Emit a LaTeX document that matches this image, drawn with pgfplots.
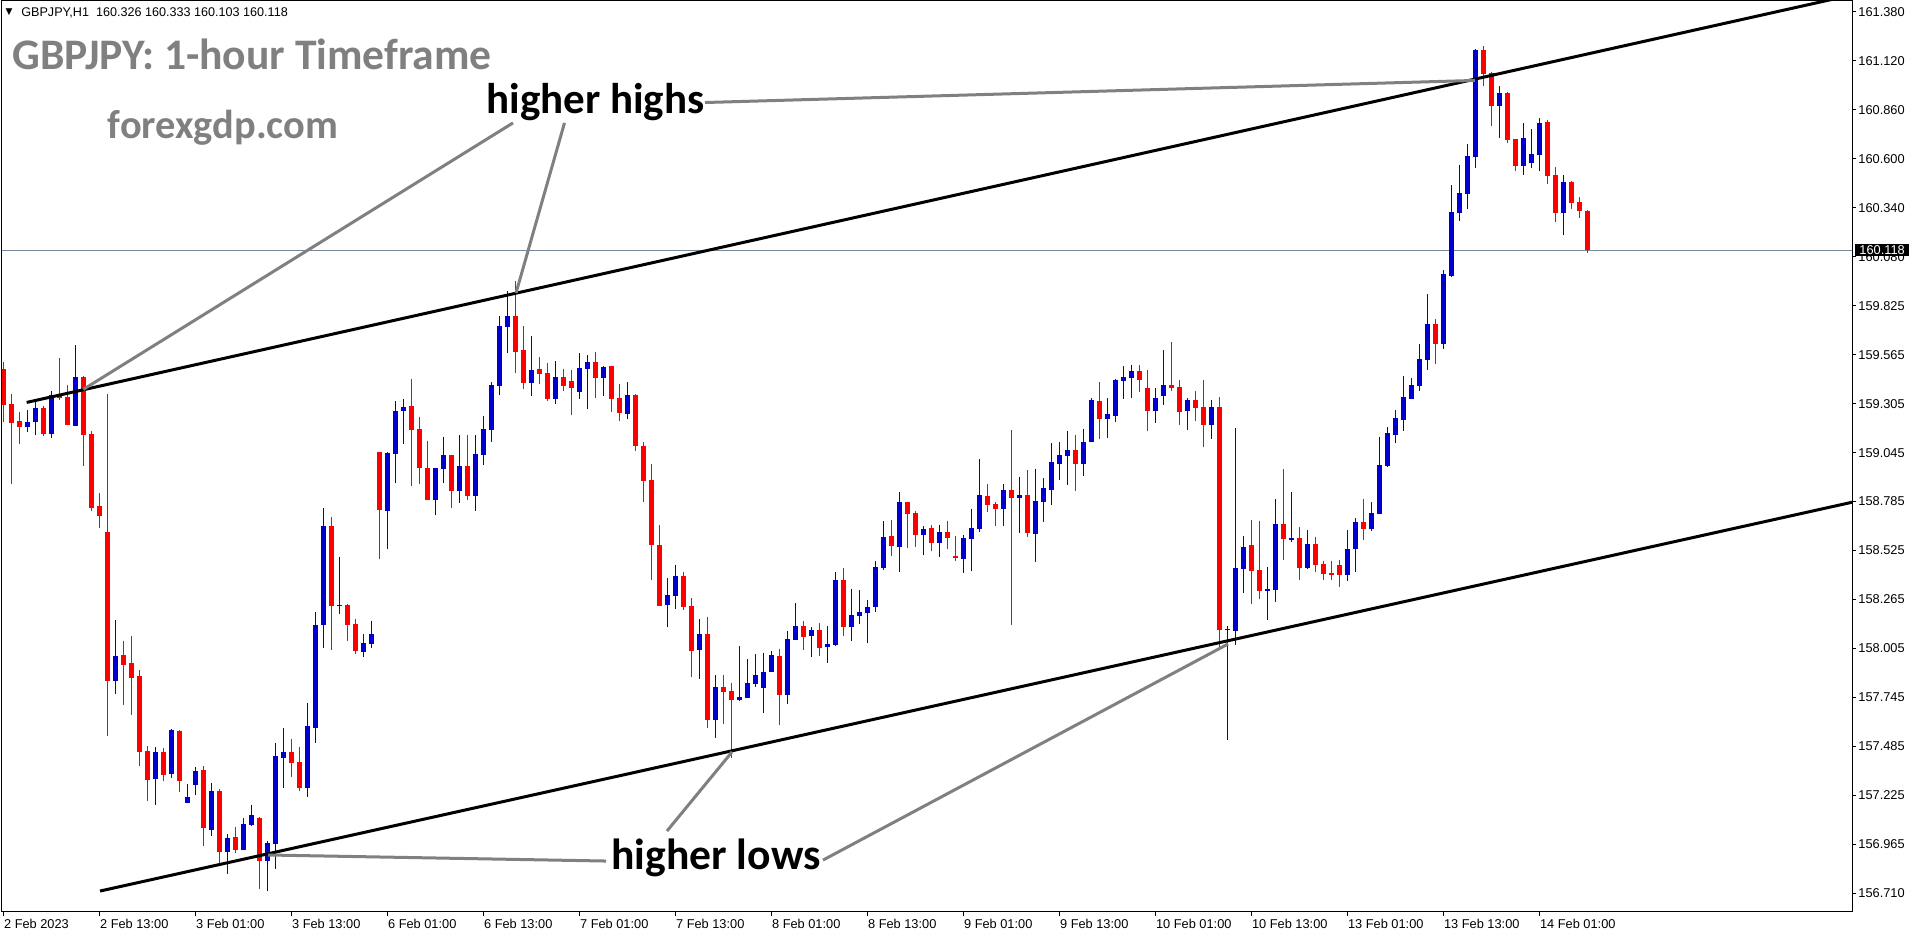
\documentclass[border=0pt]{standalone}
\usepackage{pgfplots}
\pgfplotsset{compat=1.18}
\usepackage{pgfplotstable}
\usepackage{fontspec}
\setmainfont{Carlito}
\newfontfamily\tickfont{Liberation Sans}
\newfontfamily\symfont{DejaVu Sans}
\definecolor{mtblue}{RGB}{0,0,204}
\definecolor{mtred}{RGB}{255,0,0}
\definecolor{anngray}{RGB}{128,128,128}
\definecolor{pricegray}{RGB}{119,136,153}

\pgfplotstableread{
i o h l c
3 159.181 159.271 159.154 159.207
4 159.207 159.319 159.139 159.282
6 159.146 159.370 159.122 159.351
9 159.188 159.616 159.184 159.445
14 157.836 158.158 157.764 157.967
19 157.317 157.485 157.178 157.458
21 157.343 157.580 157.322 157.575
23 157.190 157.289 157.188 157.222
24 157.284 157.379 157.231 157.358
26 157.045 157.294 157.015 157.252
28 156.930 157.024 156.813 157.003
30 156.939 157.109 156.937 157.077
31 157.072 157.178 157.066 157.125
33 156.882 156.987 156.723 156.976
34 156.972 157.506 156.840 157.437
35 157.427 157.586 157.269 157.458
38 157.269 157.718 157.222 157.596
39 157.587 158.200 157.508 158.132
40 158.133 158.752 158.011 158.656
42 158.230 158.492 158.191 158.238
45 157.990 158.084 157.964 158.036
46 158.032 158.153 158.011 158.084
48 158.737 159.050 158.533 159.045
49 159.039 159.319 158.886 159.266
50 159.266 159.329 159.092 159.287
54 158.796 158.966 158.716 158.964
55 158.960 159.128 158.886 159.033
57 158.843 159.139 158.780 158.974
59 158.817 159.139 158.737 159.038
60 159.034 159.239 158.981 159.170
61 159.167 159.419 159.103 159.404
62 159.400 159.769 159.352 159.716
63 159.712 159.902 159.575 159.769
66 159.416 159.663 159.347 159.483
69 159.331 159.531 159.304 159.446
72 159.368 159.573 159.331 159.494
73 159.490 159.563 159.278 159.525
75 159.442 159.504 159.347 159.499
78 159.251 159.419 159.225 159.351
83 158.239 158.381 158.122 158.289
84 158.287 158.450 158.218 158.391
87 158.001 158.163 157.847 158.084
89 157.630 157.866 157.534 157.803
92 157.736 158.022 157.730 157.750
93 157.746 157.951 157.744 157.824
94 157.820 157.979 157.804 157.866
95 157.799 157.985 157.667 157.882
96 157.884 157.995 157.882 157.973
98 157.762 158.101 157.714 158.057
99 158.054 158.248 158.052 158.126
101 158.075 158.121 157.964 158.105
103 158.017 158.126 157.932 158.031
104 158.027 158.412 158.022 158.370
106 158.122 158.322 158.048 158.185
107 158.181 158.317 158.138 158.200
108 158.197 158.264 158.038 158.227
109 158.228 158.471 158.202 158.439
110 158.435 158.683 158.425 158.598
112 158.547 158.836 158.414 158.783
115 158.610 158.656 158.504 158.640
117 158.568 158.662 158.494 158.624
120 158.483 158.609 158.409 158.593
121 158.589 158.746 158.419 158.646
122 158.642 159.011 158.626 158.821
125 158.748 158.879 158.658 158.847
127 158.806 158.916 158.621 158.821
129 158.615 158.958 158.467 158.789
130 158.785 158.911 158.679 158.858
131 158.849 159.096 158.769 158.995
132 158.986 159.101 158.902 159.033
133 159.029 159.160 158.875 159.059
135 158.986 159.170 158.923 159.101
136 159.103 159.335 159.101 159.324
138 159.225 159.335 159.124 159.250
139 159.241 159.435 159.209 159.430
140 159.426 159.504 159.331 159.446
141 159.442 159.510 159.336 159.478
144 159.267 159.388 159.204 159.335
145 159.347 159.589 159.299 159.404
148 159.267 159.335 159.167 159.324
151 159.193 159.324 159.119 159.287
153 158.103 158.126 157.524 158.113
154 158.101 159.176 158.027 158.434
155 158.430 158.603 158.303 158.545
158 158.313 158.439 158.160 158.322
159 158.319 158.799 158.255 158.667
161 158.584 158.836 158.573 158.593
163 158.435 158.635 158.430 158.561
168 158.398 158.635 158.366 158.534
169 158.536 158.699 158.414 158.677
171 158.642 158.783 158.631 158.725
172 158.721 159.128 158.719 158.980
173 158.976 159.181 158.971 159.149
174 159.140 159.271 159.098 159.229
175 159.220 159.451 159.161 159.340
176 159.329 159.441 159.327 159.404
177 159.400 159.621 159.373 159.541
178 159.538 159.886 159.485 159.727
180 159.622 160.013 159.596 159.992
181 159.983 160.464 159.978 160.320
182 160.317 160.570 160.274 160.421
183 160.417 160.681 160.338 160.617
184 160.614 161.184 160.555 161.179
187 160.884 160.988 160.714 160.951
190 160.566 160.792 160.518 160.713
191 160.582 160.760 160.555 160.628
192 160.624 160.819 160.539 160.792
195 160.317 160.517 160.200 160.479
}\upt

\pgfplotstableread{
i o h l c
0 159.488 159.525 159.207 159.298
1 159.303 159.356 158.879 159.202
2 159.213 159.260 159.091 159.181
5 159.282 159.294 159.131 159.146
7 159.351 159.547 159.322 159.335
8 159.340 159.401 159.192 159.194
10 159.445 159.453 158.976 159.141
11 159.142 159.161 158.736 158.754
12 158.762 158.830 158.648 158.711
13 158.622 159.354 157.543 157.836
15 157.973 158.045 157.708 157.922
16 157.929 158.076 157.655 157.853
17 157.860 157.893 157.384 157.460
18 157.464 157.490 157.199 157.310
20 157.458 157.480 157.305 157.337
22 157.570 157.575 157.248 157.305
25 157.363 157.384 156.962 157.057
27 157.252 157.262 156.869 156.930
29 157.008 157.061 156.925 156.939
32 157.109 157.114 156.734 156.882
36 157.458 157.527 157.328 157.402
37 157.405 157.485 157.253 157.269
41 158.656 158.706 158.001 158.234
43 158.238 158.243 158.048 158.133
44 158.137 158.163 157.979 157.995
47 159.048 159.050 158.483 158.743
51 159.292 159.435 158.870 159.165
52 159.170 159.234 158.880 158.965
53 158.964 159.107 158.794 158.796
56 159.033 159.035 158.753 158.843
58 158.974 159.139 158.796 158.817
64 159.769 159.955 159.469 159.580
65 159.589 159.716 159.384 159.416
67 159.488 159.552 159.410 159.462
68 159.467 159.520 159.320 159.331
70 159.446 159.488 159.373 159.400
71 159.425 159.483 159.246 159.389
74 159.525 159.578 159.336 159.442
76 159.504 159.506 159.262 159.331
77 159.336 159.409 159.214 159.257
79 159.351 159.356 159.055 159.082
80 159.082 159.103 158.785 158.896
81 158.900 158.985 158.372 158.557
82 158.556 158.662 158.232 158.234
85 158.391 158.412 158.213 158.228
86 158.232 158.275 157.857 157.995
88 158.084 158.174 157.587 157.630
90 157.803 157.866 157.608 157.778
91 157.782 157.824 157.428 157.736
97 157.967 158.006 157.603 157.762
100 158.126 158.153 158.001 158.070
102 158.105 158.142 157.969 158.011
105 158.370 158.434 158.075 158.122
111 158.603 158.688 158.499 158.552
113 158.783 158.785 158.541 158.721
114 158.725 158.736 158.547 158.610
116 158.646 158.662 158.525 158.568
118 158.624 158.683 158.536 158.594
119 158.497 158.603 158.472 158.487
123 158.815 158.879 158.732 158.769
124 158.773 158.783 158.658 158.748
126 158.847 159.165 158.133 158.806
128 158.821 158.953 158.600 158.621
134 159.059 159.139 158.843 158.986
137 159.319 159.419 159.119 159.225
142 159.478 159.510 159.368 159.430
143 159.388 159.483 159.161 159.267
146 159.404 159.631 159.373 159.389
147 159.393 159.430 159.193 159.262
149 159.324 159.372 159.214 159.283
150 159.287 159.430 159.077 159.193
152 159.287 159.340 158.017 158.107
156 158.556 158.688 158.244 158.419
157 158.423 158.683 158.271 158.313
160 158.667 158.958 158.478 158.589
162 158.593 158.651 158.372 158.435
164 158.561 158.598 158.414 158.451
165 158.455 158.471 158.372 158.403
166 158.407 158.471 158.372 158.398
167 158.450 158.476 158.335 158.398
170 158.677 158.799 158.584 158.642
179 159.727 159.753 159.516 159.622
185 161.179 161.200 160.985 161.053
186 161.057 161.062 160.773 160.884
188 160.951 160.956 160.688 160.704
189 160.707 160.709 160.539 160.566
193 160.797 160.808 160.470 160.513
194 160.517 160.559 160.269 160.317
196 160.479 160.485 160.338 160.370
197 160.373 160.400 160.290 160.327
198 160.326 160.333 160.103 160.118
}\downt

\begin{document}
\begin{tikzpicture}
\useasboundingbox (-1pt,-12pt) rectangle (957pt,456pt);
\begin{axis}[
  scale only axis, width=925pt, height=455.5pt,
  xmin=-0.2125, xmax=231.04, ymin=156.611, ymax=161.438,
  clip mode=individual,
  axis line style={line width=0.5pt, black},
  tick align=outside, major tick length=2pt,
  tick style={line width=0.5pt, black},
  xtick pos=left, ytick pos=right,
  yticklabel pos=right,
  xtick={0,12,...,192},
  xticklabels={2 Feb 2023, 2 Feb 13:00, 3 Feb 01:00, 3 Feb 13:00, 6 Feb 01:00, 6 Feb 13:00, 7 Feb 01:00, 7 Feb 13:00, 8 Feb 01:00, 8 Feb 13:00, 9 Feb 01:00, 9 Feb 13:00, 10 Feb 01:00, 10 Feb 13:00, 13 Feb 01:00, 13 Feb 13:00, 14 Feb 01:00},
  ytick={161.380,161.1206,160.8611,160.6017,160.3422,160.0828,159.8234,159.5639,159.3045,159.0450,158.7856,158.5262,158.2667,158.0073,157.7478,157.4884,157.2290,156.9695,156.7101},
  yticklabels={161.380,161.120,160.860,160.600,160.340,160.080,159.825,159.565,159.305,159.045,158.785,158.525,158.265,158.005,157.745,157.485,157.225,156.965,156.710},
  yticklabel style={font=\tickfont\fontsize{6.4}{7.5}\selectfont, anchor=west, inner sep=0pt, xshift=1pt},
  xticklabel style={font=\tickfont\fontsize{6.4}{7.5}\selectfont, anchor=north west, inner sep=0pt, yshift=-1.5pt},
  /pgf/number format/assume math mode=true,
  candle/.style={draw=none, no markers, forget plot},
]
% current price line
\addplot[pricegray, line width=0.5pt, forget plot] coordinates {(-0.2125,160.118) (231.04,160.118)};
% wicks
\addplot[candle, error bars/.cd, y dir=plus, y explicit, error mark=none,
  error bar style={draw=mtblue, line width=0.55pt}]
  table[x=i, y=l, y error plus expr=\thisrow{h}-\thisrow{l}] {\upt};
\addplot[candle, error bars/.cd, y dir=plus, y explicit, error mark=none,
  error bar style={draw=mtred, line width=0.55pt}]
  table[x=i, y=l, y error plus expr=\thisrow{h}-\thisrow{l}] {\downt};
% bodies
\addplot[candle, error bars/.cd, y dir=plus, y explicit, error mark=none,
  error bar style={draw=mtblue, line width=2.5pt}]
  table[x=i, y=o, y error plus expr=\thisrow{c}-\thisrow{o}] {\upt};
\addplot[candle, error bars/.cd, y dir=plus, y explicit, error mark=none,
  error bar style={draw=mtred, line width=2.5pt}]
  table[x=i, y=c, y error plus expr=\thisrow{o}-\thisrow{c}] {\downt};
% trend lines
\addplot[black, line width=1.5pt, forget plot] coordinates {(2.875,159.311) (230.5,161.465)};
\addplot[black, line width=1.5pt, forget plot] coordinates {(12.04,156.722) (231.04,158.782)};
% annotation lines
\addplot[anngray, line width=1.5pt, forget plot] coordinates {(63.66,160.792) (9.95,159.380)};
\addplot[anngray, line width=1.5pt, forget plot] coordinates {(70.1,160.792) (64.04,159.891)};
\addplot[anngray, line width=1.5pt, forget plot] coordinates {(87.66,160.900) (183.9,161.017)};
\addplot[anngray, line width=1.5pt, forget plot] coordinates {(75.29,156.881) (33.04,156.913)};
\addplot[anngray, line width=1.5pt, forget plot] coordinates {(82.91,157.040) (91.04,157.459)};
\addplot[anngray, line width=1.5pt, forget plot] coordinates {(102.41,156.886) (153.04,158.031)};
% texts
\node[anchor=west, inner sep=0pt, font=\symfont\fontsize{4.5}{5}\selectfont] at (axis cs:0.2,161.377) {▼};
\node[anchor=west, inner sep=0pt, font=\tickfont\fontsize{6.3}{7}\selectfont] at (axis cs:2.16,161.377) {GBPJPY,H1\ \ 160.326 160.333 160.103 160.118};
\node[anchor=base west, inner sep=0pt, text=anngray, font=\bfseries\fontsize{21.8}{24}\selectfont] at (axis cs:1.04,161.073) {GBPJPY: 1-hour Timeframe};
\node[anchor=base west, inner sep=0pt, text=anngray, font=\bfseries\fontsize{20.2}{24}\selectfont] at (axis cs:12.98,160.712) {forexgdp.com};
\node[anchor=base west, inner sep=0pt, text=black, font=\bfseries\fontsize{21.5}{24}\selectfont] at (axis cs:60.29,160.842) {higher highs};
\node[anchor=base west, inner sep=0pt, text=black, font=\bfseries\fontsize{21.8}{24}\selectfont] at (axis cs:75.91,156.834) {higher lows};
\coordinate (pl) at (axis cs:231.04,160.118);
\end{axis}
\node[fill=black, text=white, anchor=west, inner xsep=2pt, inner ysep=0.8pt, font=\tickfont\fontsize{6.4}{7}\selectfont, xshift=1.5pt] at (pl) {160.118};
\end{tikzpicture}
\end{document}
